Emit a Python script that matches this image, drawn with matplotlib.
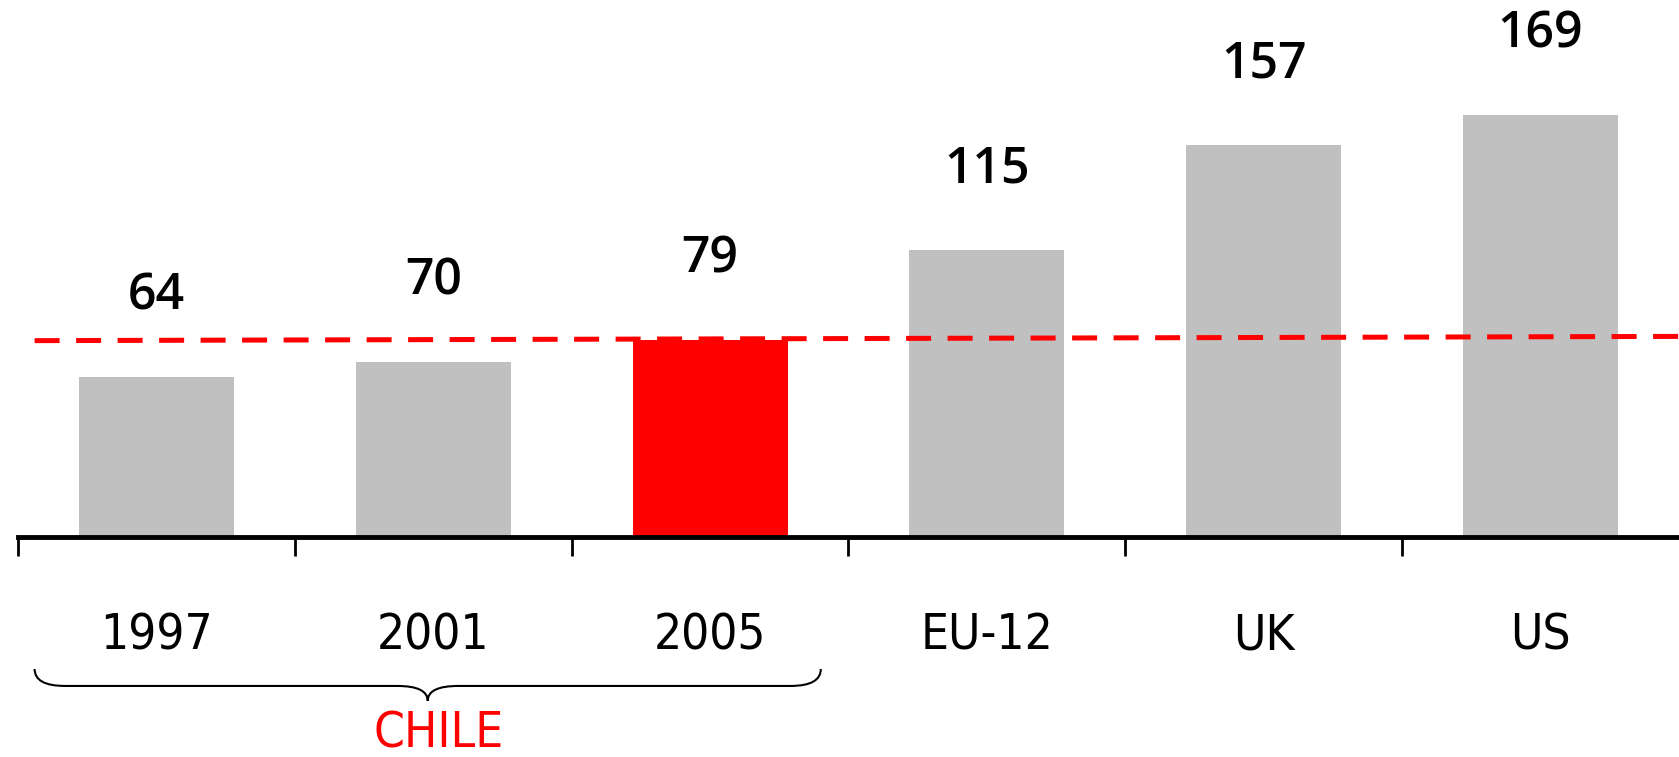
import matplotlib
matplotlib.use("Agg")
import matplotlib.pyplot as plt
from matplotlib.path import Path
from matplotlib.patches import PathPatch

categories = ['1997', '2001', '2005', 'EU-12', 'UK', 'US']
values = [64, 70, 79, 115, 157, 169]
highlight = '2005'
group_label = 'CHILE'
group_members = ['1997', '2001', '2005']
ref_line = [78.7, 80.4]  # dashed reference line, left and right end

GREY = '#c0c0c0'
RED = '#ff0000'
num_font = ['Open Sans', 'DejaVu Sans']
lab_font = ['DejaVu Sans']

fig = plt.figure(figsize=(16.79, 7.57), dpi=100)
ax = fig.add_axes([18 / 1679, 1 - 537 / 757, 1 - 18 / 1679, 499 / 757])

x = list(range(len(categories)))
colors = [RED if c == highlight else GREY for c in categories]
bars = ax.bar(x, values, width=0.56, color=colors, zorder=2)

for xi, v in zip(x, values):
    ax.annotate(str(v), (xi, v), xytext=(0, 58), textcoords='offset points',
                ha='center', va='center', fontsize=36, family=num_font,
                fontweight='semibold')

# dashed reference line (2005 level)
ax.plot([-0.44, len(categories) - 0.5], ref_line, color=RED, lw=3.6,
        dashes=(5, 3.3), zorder=3, clip_on=False, solid_capstyle='butt')

ax.set_xlim(-0.5, len(categories) - 0.5)
ax.set_ylim(0, 200)

for s in ['top', 'right', 'left']:
    ax.spines[s].set_visible(False)
ax.spines['bottom'].set_linewidth(3.5)
ax.set_yticks([])

# boundary ticks and centred labels
ax.set_xticks([i - 0.5 for i in x])
ax.set_xticklabels([])
ax.tick_params(axis='x', which='major', direction='out', length=14, width=2)
ax.set_xticks(x, minor=True)
ax.set_xticklabels(categories, minor=True, fontsize=35.5, family=lab_font,
                   fontstretch='condensed')
ax.tick_params(axis='x', which='minor', length=0, pad=54)

# curly brace under the Chile group
i0 = categories.index(group_members[0])
i1 = categories.index(group_members[-1])
xl, xr = i0 - 0.44, i1 + 0.40
xc = (xl + xr) / 2
yt, ym, yb = -52.9, -59.7, -65.7
r = 0.11
verts = [(xl, yt), (xl, ym), (xl + r, ym),
         (xc - r, ym),
         (xc, ym), (xc, yb),
         (xc, ym), (xc + r, ym),
         (xr - r, ym),
         (xr, ym), (xr, yt)]
codes = [Path.MOVETO, Path.CURVE3, Path.CURVE3,
         Path.LINETO,
         Path.CURVE3, Path.CURVE3,
         Path.CURVE3, Path.CURVE3,
         Path.LINETO,
         Path.CURVE3, Path.CURVE3]
ax.add_patch(PathPatch(Path(verts, codes), fill=False, lw=1.5,
                       edgecolor='black', clip_on=False))
ax.text(xc + 0.04, -84.5, group_label, color=RED, ha='center', va='baseline',
        fontsize=35.5, family=lab_font, fontstretch='condensed')

fig.savefig('out.png', dpi=100)
